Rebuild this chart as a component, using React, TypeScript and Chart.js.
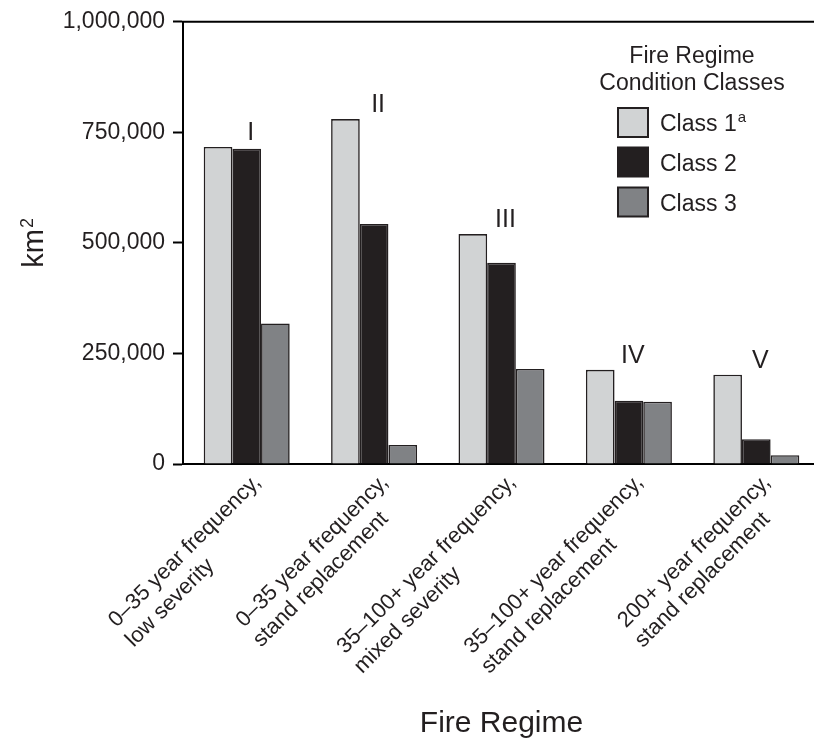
import React, { useEffect, useRef } from "react";
import { Chart, registerables } from "chart.js";

Chart.register(...registerables);

const FONT = '"Liberation Sans", Arial, Helvetica, sans-serif';
const INK = "#231f20";

// ---- data ----
const categories: string[][] = [
  ["0–35 year frequency,", "low severity"],
  ["0–35 year frequency,", "stand replacement"],
  ["35–100+ year frequency,", "mixed severity"],
  ["35–100+ year frequency,", "stand replacement"],
  ["200+ year frequency,", "stand replacement"],
];
const regimeNumerals = ["I", "II", "III", "IV", "V"];
const class1 = [717000, 780000, 520000, 213000, 202000];
const class2 = [713000, 543000, 455000, 143000, 56000];
const class3 = [318000, 43000, 215000, 141000, 20000];
const seriesNames = ["Class 1", "Class 2", "Class 3"];
const seriesSuperscripts = ["a", "", ""];
const seriesColors = ["#d1d3d4", "#231f20", "#808285"];
const yTickValues = [0, 250000, 500000, 750000, 1000000];
const legendTitle = ["Fire Regime", "Condition Classes"];
const xTitle = "Fire Regime";
const yTitleBase = "km";
const yTitleSup = "2";

const overlayPlugin = {
  id: "overlay",
  afterDatasetsDraw(chart: any) {
    const { ctx } = chart;
    const xs = chart.scales.x;
    const ys = chart.scales.y;
    ctx.save();
    ctx.fillStyle = INK;
    ctx.font = `25px ${FONT}`;
    ctx.textAlign = "center";
    ctx.textBaseline = "alphabetic";
    regimeNumerals.forEach((n, i) => {
      const max = Math.max(class1[i], class2[i], class3[i]);
      const x = xs.getPixelForValue(i) + 4;
      const y = ys.getPixelForValue(max) - 7;
      ctx.fillText(n, x, y);
    });
    ctx.restore();
  },
  afterDraw(chart: any) {
    const { ctx, chartArea } = chart;
    const xs = chart.scales.x;
    const ys = chart.scales.y;
    ctx.save();
    // top frame line
    ctx.strokeStyle = "#000";
    ctx.lineWidth = 2;
    ctx.beginPath();
    ctx.moveTo(chartArea.left - 1, chartArea.top);
    ctx.lineTo(chart.width, chartArea.top);
    ctx.stroke();

    // y axis title with superscript
    ctx.save();
    ctx.fillStyle = INK;
    ctx.translate(43, (ys.top + ys.bottom) / 2);
    ctx.rotate(-Math.PI / 2);
    ctx.textBaseline = "alphabetic";
    ctx.textAlign = "left";
    ctx.font = `29px ${FONT}`;
    const wk = ctx.measureText(yTitleBase).width;
    ctx.font = `18px ${FONT}`;
    const ws = ctx.measureText(yTitleSup).width;
    const start = -(wk + ws + 1) / 2;
    ctx.font = `29px ${FONT}`;
    ctx.fillText(yTitleBase, start, 0);
    ctx.font = `18px ${FONT}`;
    ctx.fillText(yTitleSup, start + wk + 1, -10);
    ctx.restore();

    // rotated category labels (lines left-aligned)
    ctx.fillStyle = INK;
    ctx.font = `22px ${FONT}`;
    categories.forEach((lines, i) => {
      const x = xs.getPixelForValue(i) + 3;
      const y = xs.top + 7;
      ctx.save();
      ctx.translate(x, y);
      ctx.rotate(-Math.PI / 4);
      ctx.textBaseline = "top";
      ctx.textAlign = "right";
      ctx.fillText(lines[0], 0, 0);
      const w1 = ctx.measureText(lines[0]).width;
      ctx.textAlign = "left";
      for (let k = 1; k < lines.length; k++) {
        ctx.fillText(lines[k], -w1 - 2, 26 * k);
      }
      ctx.restore();
    });

    // legend
    const cx = 692;
    ctx.font = `23px ${FONT}`;
    ctx.textAlign = "center";
    ctx.textBaseline = "alphabetic";
    legendTitle.forEach((t, k) => ctx.fillText(t, cx, 63 + 27 * k));
    const boxX = 618;
    const boxTops = [108, 147.5, 187.5];
    seriesNames.forEach((name, k) => {
      const top = boxTops[k];
      ctx.fillStyle = seriesColors[k];
      ctx.fillRect(boxX, top, 30, 29);
      ctx.strokeStyle = INK;
      ctx.lineWidth = 2;
      ctx.strokeRect(boxX, top, 30, 29);
      ctx.fillStyle = INK;
      ctx.font = `23px ${FONT}`;
      ctx.textAlign = "left";
      const base = top + 14.5 + 8.5;
      ctx.fillText(name, 660, base);
      if (seriesSuperscripts[k]) {
        const w = ctx.measureText(name).width;
        ctx.font = `15px ${FONT}`;
        ctx.fillText(seriesSuperscripts[k], 660 + w + 1, base - 9);
      }
    });
    ctx.restore();
  },
};

export default function App() {
  const ref = useRef<HTMLCanvasElement>(null);
  useEffect(() => {
    const datasets = [class1, class2, class3].map((data, k) => ({
      label: seriesNames[k],
      data,
      backgroundColor: seriesColors[k],
      borderColor: INK,
      borderWidth: 1.6,
      barPercentage: 1,
      categoryPercentage: 0.675,
    }));
    const chart = new Chart(ref.current as HTMLCanvasElement, {
      type: "bar",
      data: { labels: categories.map((c) => c.join(" ")), datasets },
      options: {
        animation: false,
        responsive: false,
        layout: { padding: { top: 18, right: 10, left: 0, bottom: 0 } },
        plugins: { legend: { display: false }, tooltip: { enabled: false } },
        scales: {
          x: {
            type: "category",
            grid: { display: false },
            border: { display: true, color: "#000", width: 2 },
            ticks: { display: false },
            title: {
              display: true,
              text: xTitle,
              color: INK,
              font: { family: FONT, size: 30 },
              padding: { top: 0, bottom: 2 },
            },
            afterFit: (s: any) => {
              s.height = 280;
            },
          },
          y: {
            min: 0,
            max: 1000000,
            afterBuildTicks: (s: any) => {
              s.ticks = yTickValues.map((v) => ({ value: v }));
            },
            grid: {
              display: true,
              drawOnChartArea: false,
              drawTicks: true,
              tickLength: 10,
              tickWidth: 2,
              tickColor: "#000",
            },
            border: { display: true, color: "#000", width: 2 },
            ticks: {
              color: INK,
              padding: 8,
              font: { family: FONT, size: 23 },
              callback: (v: any) => Number(v).toLocaleString("en-US"),
            },
            title: { display: false },
            afterFit: (s: any) => {
              s.width = 183;
            },
          },
        },
      },
      plugins: [overlayPlugin],
    });
    return () => chart.destroy();
  }, []);
  return (
    <div
      style={{
        position: "fixed",
        left: 0,
        top: 0,
        width: 814,
        height: 744,
        overflow: "hidden",
        background: "#fff",
      }}
    >
      <canvas
        ref={ref}
        width={830}
        height={744}
        style={{ display: "block", width: 830, height: 744 }}
      />
    </div>
  );
}
